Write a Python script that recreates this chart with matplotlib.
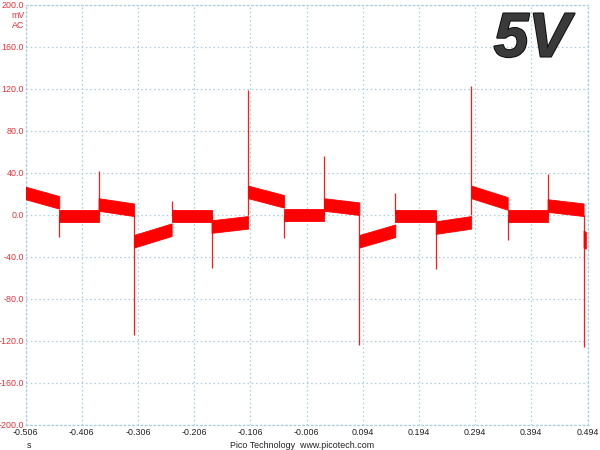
import matplotlib
matplotlib.use("Agg")
import matplotlib.pyplot as plt
import matplotlib.patheffects as pe

# ---- data ----
seg_edges = [-0.506, -0.446, -0.376, -0.313, -0.246, -0.175, -0.110, -0.046,
             0.025, 0.088, 0.152, 0.224, 0.287, 0.352, 0.423, 0.487, 0.491]
seg_start = [21, -1, 10, -25, -1, -11, 22, 0, 10, -25, -1, -12, 22, -1, 9, -23]
seg_end = [12, -1, 5, -14, -1, -7, 13, 0, 6, -15, -1, -7, 11, -1, 5, -24]
band_half = [6] * 15 + [8]
spike_times = [-0.446, -0.376, -0.313, -0.246, -0.175, -0.110, -0.046, 0.025,
               0.088, 0.152, 0.224, 0.287, 0.352, 0.423, 0.487]
spike_peaks = [-21, 42, -114, 13, -50, 119, -22, 56, -124, 21, -51, 123, -24, 39, -126]

x_ticks = [-0.506, -0.406, -0.306, -0.206, -0.106, -0.006, 0.094, 0.194, 0.294, 0.394, 0.494]
x_tick_labels = ["-0.506", "-0.406", "-0.306", "-0.206", "-0.106", "-0.006",
                 "0.094", "0.194", "0.294", "0.394", "0.494"]
y_ticks = [-200, -160, -120, -80, -40, 0, 40, 80, 120, 160, 200]
y_tick_labels = ["-200.0", "-160.0", "-120.0", "-80.0", "-40.0", "0.0",
                 "40.0", "80.0", "120.0", "160.0", "200.0"]

RED = "#ff0000"
LABEL_RED = "#e8303a"
GRID = "#a9cfe0"
FONT = "Liberation Sans"
FS = 6.4

fig = plt.figure(figsize=(6, 4.5), dpi=100)
ax = fig.add_axes([25.5 / 600, 1 - 425 / 450, (587.5 - 25.5) / 600, 420 / 450])
ax.set_xlim(x_ticks[0], x_ticks[-1])
ax.set_ylim(y_ticks[0], y_ticks[-1])

# noise bands
for i in range(len(seg_start)):
    x0, x1 = seg_edges[i], seg_edges[i + 1]
    y0, y1 = seg_start[i], seg_end[i]
    h = band_half[i]
    ax.fill_between([x0, x1], [y0 - h, y1 - h], [y0 + h, y1 + h],
                    color=RED, linewidth=0.6, edgecolor=RED, zorder=3)

# spikes
ax.vlines(spike_times, [0] * len(spike_peaks), spike_peaks,
          color=RED, linewidth=0.9, alpha=0.9, zorder=3)

# grid / frame
ax.set_xticks(x_ticks)
ax.set_yticks(y_ticks)
ax.grid(True, color=GRID, linestyle=(0, (1.2, 2.2)), linewidth=0.9, zorder=0)
for s in ax.spines.values():
    s.set_color(GRID)
    s.set_linestyle((0, (1.2, 2.2)))
    s.set_linewidth(0.9)
ax.tick_params(length=0)
ax.set_xticklabels(x_tick_labels, fontsize=FS, color="#222222", family=FONT)
ax.set_yticklabels(y_tick_labels, fontsize=FS, color=LABEL_RED, family=FONT)
ax.tick_params(axis="x", pad=2.5)
ax.tick_params(axis="y", pad=1)

# unit labels
fig.text(24.5 / 600, 1 - 16 / 450, "mV", ha="right", va="center", fontsize=FS,
         color=LABEL_RED, family=FONT)
fig.text(24.5 / 600, 1 - 26 / 450, "AC", ha="right", va="center", fontsize=FS,
         color=LABEL_RED, family=FONT)
fig.text(29 / 600, 1 - 445.5 / 450, "s", ha="center", va="center", fontsize=FS,
         color="#222222", family=FONT)
fig.text(302 / 600, 1 - 445.5 / 450, "Pico Technology  www.picotech.com",
         ha="center", va="center", fontsize=FS, color="#222222", family=FONT)

# big "5V" label
fig.text(532 / 600, 1 - 40 / 450, "5V", ha="center", va="center", fontsize=45,
         fontweight="bold", fontstyle="italic", family="Liberation Sans",
         color="#3a3a3a",
         path_effects=[pe.withStroke(linewidth=1.5, foreground="#111111")])

fig.savefig("out.png", dpi=100)
